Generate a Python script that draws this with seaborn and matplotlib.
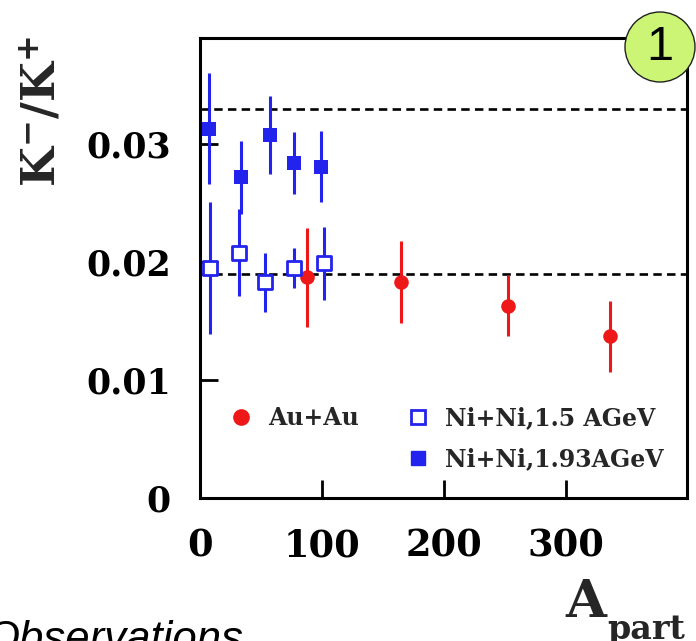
import matplotlib
matplotlib.use("Agg")
import matplotlib.pyplot as plt
import numpy as np
import pandas as pd
import seaborn as sns
from matplotlib.lines import Line2D
from matplotlib.patches import Ellipse

# K-/K+ ratio versus number of participating nucleons
au_npart = [88, 165, 252, 336]
au_ratio = [0.0187, 0.0183, 0.0163, 0.0137]
au_err = [0.0042, 0.0035, 0.0026, 0.0030]

ni15_npart = [8, 32, 53, 77, 102]
ni15_ratio = [0.0195, 0.0208, 0.0183, 0.0195, 0.0199]
ni15_err = [0.0056, 0.0037, 0.0025, 0.0017, 0.0031]

ni193_npart = [7, 34, 57, 77, 99]
ni193_ratio = [0.0313, 0.0272, 0.0308, 0.0284, 0.0281]
ni193_err = [0.0047, 0.0031, 0.0033, 0.0026, 0.0030]

ref_levels = [0.033, 0.019]

x_ticks = [0, 100, 200, 300]
x_tick_labels = ["0", "100", "200", "300"]
y_ticks = [0, 0.01, 0.02, 0.03]
y_tick_labels = ["0", "0.01", "0.02", "0.03"]

series_labels = ["Au+Au", "Ni+Ni,1.5 AGeV", "Ni+Ni,1.93AGeV"]

RED = "#ee1818"
BLUE = "#2323ee"

sns.set_theme(style="white")
plt.rcParams["font.family"] = ["DejaVu Serif"]
plt.rcParams["font.weight"] = "bold"
plt.rcParams["mathtext.fontset"] = "dejavuserif"

W, H = 696, 641
fig = plt.figure(figsize=(W / 100, H / 100), dpi=100)
fig.patch.set_facecolor("white")
ax = fig.add_axes([200 / W, 1 - 498 / H, 487 / W, 460 / H])
ax.set_facecolor("white")

df_au = pd.DataFrame({"npart": au_npart, "ratio": au_ratio, "err": au_err})
df_n15 = pd.DataFrame({"npart": ni15_npart, "ratio": ni15_ratio, "err": ni15_err})
df_n19 = pd.DataFrame({"npart": ni193_npart, "ratio": ni193_ratio, "err": ni193_err})

for lvl in ref_levels:
    ax.axhline(lvl, color="black", lw=1.9, ls=(0, (3.2, 2.0)), zorder=1)

for df, col in [(df_au, RED), (df_n15, BLUE), (df_n19, BLUE)]:
    ax.errorbar(df["npart"], df["ratio"], yerr=df["err"], fmt="none",
                ecolor=col, elinewidth=2.2, capsize=0, zorder=2)

sns.scatterplot(data=df_au, x="npart", y="ratio", ax=ax, marker="o", s=110,
                color=RED, edgecolor=RED, linewidth=0, zorder=3)
sns.scatterplot(data=df_n15, x="npart", y="ratio", ax=ax, marker="s", s=95,
                facecolor="white", edgecolor=BLUE, linewidth=2.0, zorder=3)
sns.scatterplot(data=df_n19, x="npart", y="ratio", ax=ax, marker="s", s=100,
                color=BLUE, edgecolor=BLUE, linewidth=0, zorder=3)

ax.set_xlim(0, 399)
ax.set_ylim(0, 0.039)
ax.set_xlabel("")
ax.set_ylabel("")

ax.set_xticks(x_ticks)
ax.set_xticklabels(x_tick_labels, fontsize=26.5, fontweight="bold")
ax.set_yticks(y_ticks)
ax.set_yticklabels(y_tick_labels, fontsize=25, fontweight="bold")
ax.tick_params(axis="x", direction="in", length=13, width=2, pad=22,
               bottom=True, top=False, colors="black")
ax.tick_params(axis="y", direction="in", length=13, width=2, pad=21,
               left=True, right=False, colors="black")

for sp in ax.spines.values():
    sp.set_color("black")
    sp.set_linewidth(2.2)
    sp.set_visible(True)

handles = [
    Line2D([], [], marker="o", ls="none", color=RED, ms=11),
    Line2D([], [], ls="none"),
    Line2D([], [], marker="s", ls="none", mfc="white", mec=BLUE, mew=2, ms=10),
    Line2D([], [], marker="s", ls="none", color=BLUE, ms=10),
]
labels = [series_labels[0], "", series_labels[1], series_labels[2]]
leg = ax.legend(handles, labels, ncol=2, frameon=False, loc="upper left",
                bbox_to_anchor=((229 - 200) / 487, (498 - 406) / 460),
                prop={"family": "DejaVu Serif", "weight": "bold", "size": 17},
                handlelength=1.0, handletextpad=0.65, columnspacing=2.0,
                labelspacing=0.73, borderpad=0, borderaxespad=0)

fig.text(42 / W, 1 - 112 / H, r"$\mathbf{K^{-}/K^{+}}$", rotation=90,
         ha="center", va="center", fontsize=33)
fig.text(565 / W, 1 - 617 / H, "A", ha="left", va="baseline",
         fontsize=38, fontweight="bold")
fig.text(607 / W, 1 - 639 / H, "part", ha="left", va="baseline",
         fontsize=24, fontweight="bold")

fig.text(-14 / W, 1 - 652 / H, "Observations", ha="left", va="baseline",
         fontsize=31.5, family="Liberation Sans", style="italic",
         fontweight="normal", color="black")

badge = Ellipse((660 / W, 1 - 47 / H), 70 / W, 70 / H, transform=fig.transFigure,
                facecolor="#ccf576", edgecolor="#222222", lw=1.0, zorder=10)
fig.add_artist(badge)
fig.text(660 / W, 1 - 47 / H, "1", ha="center", va="center", fontsize=35,
         family="Liberation Sans", fontweight="normal", color="black", zorder=11)

fig.savefig("out.png", dpi=100, facecolor="white")
